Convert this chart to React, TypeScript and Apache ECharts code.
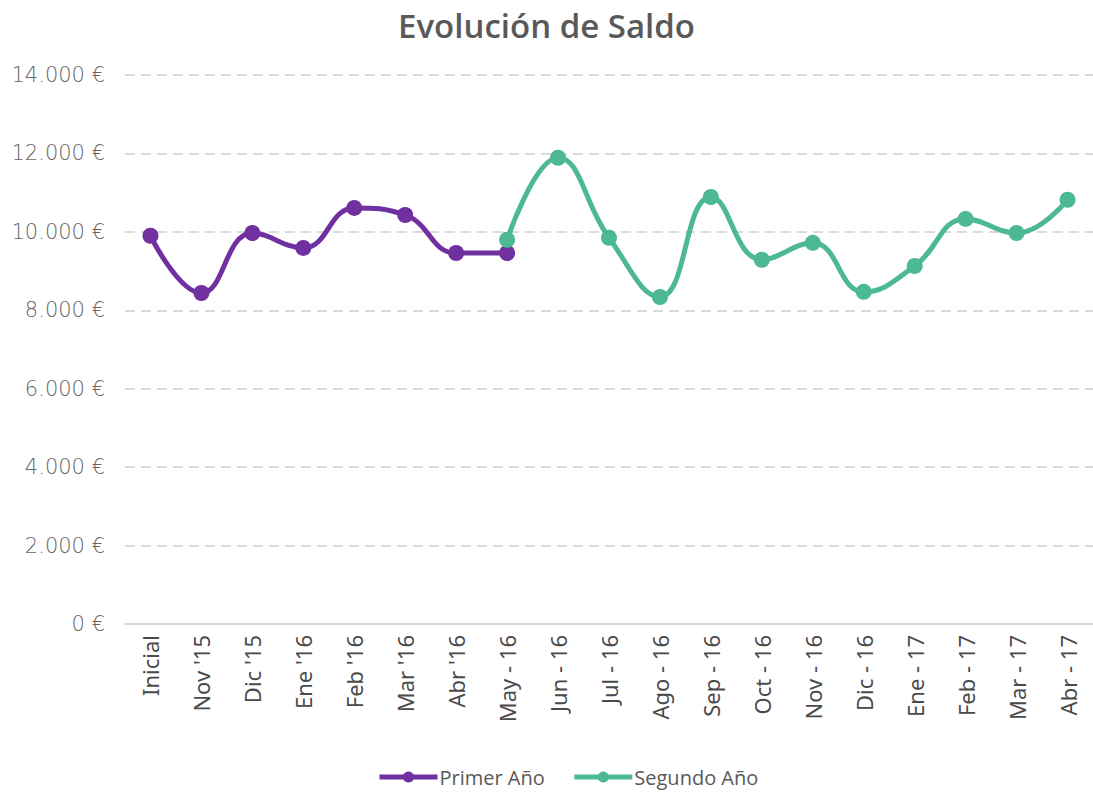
import React, { useEffect, useRef } from "react";
import * as echarts from "echarts";

const categories = [
  "Inicial", "Nov '15", "Dic '15", "Ene '16", "Feb '16", "Mar '16", "Abr '16",
  "May - 16", "Jun - 16", "Jul - 16", "Ago - 16", "Sep - 16", "Oct - 16",
  "Nov - 16", "Dic - 16", "Ene - 17", "Feb - 17", "Mar - 17", "Abr - 17",
];

const primerAno: (number | null)[] = [
  9900, 8440, 9970, 9590, 10610, 10430, 9460, 9460,
  null, null, null, null, null, null, null, null, null, null, null,
];

const segundoAno: (number | null)[] = [
  null, null, null, null, null, null, null,
  9800, 11890, 9850, 8340, 10890, 9290, 9720, 8470, 9130, 10330, 9970, 10820,
];

const yTicks = [0, 2000, 4000, 6000, 8000, 10000, 12000, 14000];

const fmt = (v: number) =>
  v === 0 ? "0 €" : `${Math.floor(v / 1000)}.${String(v % 1000).padStart(3, "0")} €`;

export default function App() {
  const ref = useRef<HTMLDivElement>(null);
  useEffect(() => {
    if (!ref.current) return;
    const chart = echarts.init(ref.current, undefined, { renderer: "svg" });
    chart.setOption({
      animation: false,
      backgroundColor: "#ffffff",
      title: {
        text: "Evolución de Saldo",
        left: "center",
        top: 4,
        textStyle: {
          fontFamily: "Open Sans",
          fontWeight: 600,
          fontSize: 33,
          color: "#595959",
        },
      },
      legend: {
        top: 762,
        left: 372,
        itemWidth: 58,
        itemHeight: 14,
        itemGap: 27,
        lineStyle: { width: 5 },
        textStyle: { fontFamily: "Open Sans", fontSize: 20, color: "#595959", padding: [0, 0, 0, -3] },
        data: ["Primer Año", "Segundo Año"],
      },
      grid: { left: 125, top: 75, width: 975, height: 549, containLabel: false },
      xAxis: {
        type: "category",
        data: categories,
        boundaryGap: true,
        axisLine: { lineStyle: { color: "#D9D9D9", width: 2 } },
        axisTick: { show: false },
        axisLabel: {
          rotate: 90,
          interval: 0,
          margin: 11,
          fontFamily: "Noto Sans",
          fontWeight: "normal",
          fontSize: 22,
          color: "#4a4a4a",
        },
      },
      yAxis: {
        type: "value",
        min: 0,
        max: 14000,
        interval: 2000,
        axisLine: { show: false },
        axisTick: { show: false },
        splitLine: { lineStyle: { color: "#D9D9D9", type: [10, 6], width: 2 } },
        axisLabel: {
          margin: 20,
          fontFamily: "DejaVu Sans",
          fontWeight: 200,
          fontSize: 21,
          color: "#666666",
          customValues: yTicks,
          formatter: (v: number) => fmt(v),
        },
      },
      series: [
        {
          name: "Primer Año",
          type: "line",
          data: primerAno,
          smooth: 0.45,
          symbol: "circle",
          symbolSize: 16,
          lineStyle: { color: "#7030A0", width: 5 },
          itemStyle: { color: "#7030A0" },
        },
        {
          name: "Segundo Año",
          type: "line",
          data: segundoAno,
          smooth: 0.45,
          symbol: "circle",
          symbolSize: 16,
          lineStyle: { color: "#4DB894", width: 5 },
          itemStyle: { color: "#4DB894" },
        },
      ],
    });
    return () => chart.dispose();
  }, []);
  return (
    <div
      ref={ref}
      style={{ position: "fixed", left: 0, top: 0, width: 1093, height: 792 }}
    />
  );
}
